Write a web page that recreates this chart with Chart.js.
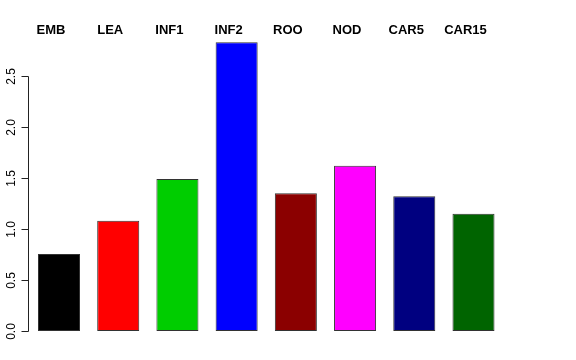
<!DOCTYPE html>
<html>
<head>
<meta charset="utf-8">
<script src="https://cdn.jsdelivr.net/npm/chart.js@4"></script>
<style>
html,body{margin:0;padding:0;background:#fff;}
#wrap{width:576px;height:360px;}
</style>
</head>
<body>
<div id="wrap"><canvas id="c" width="576" height="360"></canvas></div>
<script>
const categories = ["EMB", "LEA", "INF1", "INF2", "ROO", "NOD", "CAR5", "CAR15"];
const values = [0.755, 1.08, 1.49, 2.83, 1.35, 1.62, 1.32, 1.15];
const barColors = ["#000000", "#FF0000", "#00CD00", "#0000FF", "#8B0000", "#FF00FF", "#000080", "#006400"];
const yTicks = [0, 0.5, 1, 1.5, 2, 2.5];
const yTickLabels = ["0.0", "0.5", "1.0", "1.5", "2.0", "2.5"];

const FONT = "Liberation Sans, Arial, Helvetica, sans-serif";

const rAxes = {
  id: 'rAxes',
  afterDraw(chart) {
    const ctx = chart.ctx;
    const xs = chart.scales.x, ys = chart.scales.y;
    const ax = Math.round(chart.chartArea.left) - 0.5;
    ctx.save();
    ctx.strokeStyle = '#222';
    ctx.lineWidth = 1;
    const y0 = Math.round(ys.getPixelForValue(yTicks[0])) + 0.5;
    const y1 = Math.round(ys.getPixelForValue(yTicks[yTicks.length - 1])) + 0.5;
    ctx.beginPath();
    ctx.moveTo(ax, y0);
    ctx.lineTo(ax, y1);
    ctx.stroke();
    ctx.fillStyle = '#000';
    ctx.font = "12px " + FONT;
    yTicks.forEach((v, i) => {
      const py = Math.round(ys.getPixelForValue(v)) + 0.5;
      ctx.beginPath();
      ctx.moveTo(ax, py);
      ctx.lineTo(ax - 7, py);
      ctx.stroke();
      ctx.save();
      ctx.translate(15, py);
      ctx.rotate(-Math.PI / 2);
      ctx.textAlign = 'center';
      ctx.textBaseline = 'alphabetic';
      ctx.fillText(yTickLabels[i], 0, 0);
      ctx.restore();
    });
    ctx.font = "bold 13px " + FONT;
    ctx.textAlign = 'center';
    ctx.textBaseline = 'middle';
    categories.forEach((c, i) => {
      const px = xs.getPixelForValue(i) - 8;
      ctx.fillText(c, px, 30);
    });
    ctx.restore();
  }
};

new Chart(document.getElementById('c'), {
  type: 'bar',
  data: {
    labels: categories,
    datasets: [{
      data: values,
      backgroundColor: barColors,
      borderColor: '#333333',
      borderWidth: 1,
      borderSkipped: false,
      categoryPercentage: 1,
      barPercentage: 0.71
    }]
  },
  options: {
    responsive: false,
    animation: false,
    devicePixelRatio: 1,
    layout: { padding: { left: 29.4, right: 72.9, top: 35.2, bottom: 29 } },
    plugins: { legend: { display: false }, tooltip: { enabled: false } },
    scales: {
      x: { display: false },
      y: { display: false, min: 0, max: 2.9 }
    }
  },
  plugins: [rAxes]
});
</script>
</body>
</html>
